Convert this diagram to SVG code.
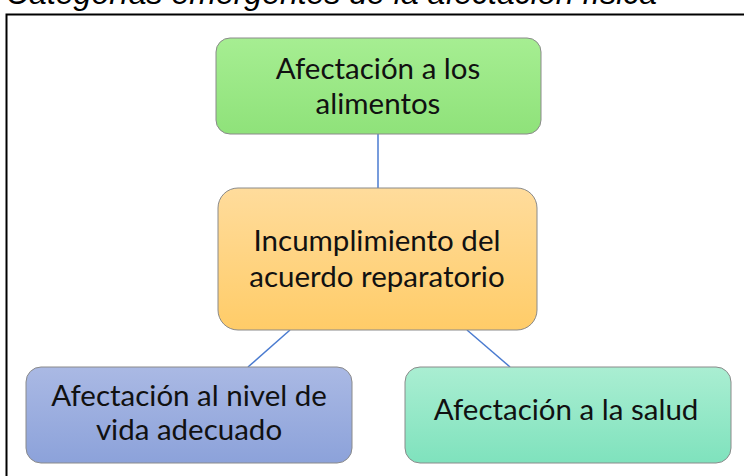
<svg xmlns="http://www.w3.org/2000/svg" width="744" height="476" viewBox="0 0 744 476">
<style>
.t{font-family:Lato,"Liberation Sans",sans-serif;font-size:29.5px;fill:#111;text-anchor:middle}
.box{stroke:#8a8a8a;stroke-width:1}
.c{stroke:#4a7bd0;stroke-width:1.5;fill:none}
</style>
<defs>
<linearGradient id="gGreen" x1="0" y1="0" x2="0" y2="1"><stop offset="0" stop-color="#a6ee92"/><stop offset="1" stop-color="#8fe27a"/></linearGradient>
<linearGradient id="gOrange" x1="0" y1="0" x2="0" y2="1"><stop offset="0" stop-color="#ffdc9c"/><stop offset="1" stop-color="#ffcc68"/></linearGradient>
<linearGradient id="gBlue" x1="0" y1="0" x2="0" y2="1"><stop offset="0" stop-color="#aab9e4"/><stop offset="1" stop-color="#8ca2da"/></linearGradient>
<linearGradient id="gTeal" x1="0" y1="0" x2="0" y2="1"><stop offset="0" stop-color="#aaeed2"/><stop offset="1" stop-color="#7fe2bd"/></linearGradient>
</defs>
<rect width="744" height="476" fill="#fff"/>
<text x="6" y="4" font-family="Liberation Sans,Arial,sans-serif" font-style="italic" font-size="32" fill="#000">Categorías emergentes de la afectación física</text>
<path d="M6.5 476 V14.5 H744" fill="none" stroke="#000" stroke-width="2"/>
<g id="connectors">
<line class="c" x1="378" y1="134" x2="378" y2="188"/>
<line class="c" x1="290" y1="330" x2="248" y2="367"/>
<line class="c" x1="467" y1="330" x2="510" y2="367"/>
</g>
<g id="n-alimentos">
<rect class="box" x="216" y="38" width="325" height="96" rx="14" fill="url(#gGreen)"/>
<text class="t" x="378" y="79">Afectación a los</text>
<text class="t" x="378" y="114">alimentos</text>
</g>
<g id="n-incumplimiento">
<rect class="box" x="218" y="188" width="319" height="142" rx="20" fill="url(#gOrange)"/>
<text class="t" x="377" y="251">Incumplimiento del</text>
<text class="t" x="377" y="287">acuerdo reparatorio</text>
</g>
<g id="n-nivel">
<rect class="box" x="26" y="367" width="326" height="96" rx="15" fill="url(#gBlue)"/>
<text class="t" x="189" y="406">Afectación al nivel de</text>
<text class="t" x="189" y="440">vida adecuado</text>
</g>
<g id="n-salud">
<rect class="box" x="405" y="367" width="326" height="96" rx="15" fill="url(#gTeal)"/>
<text class="t" x="566" y="420">Afectación a la salud</text>
</g>
</svg>
